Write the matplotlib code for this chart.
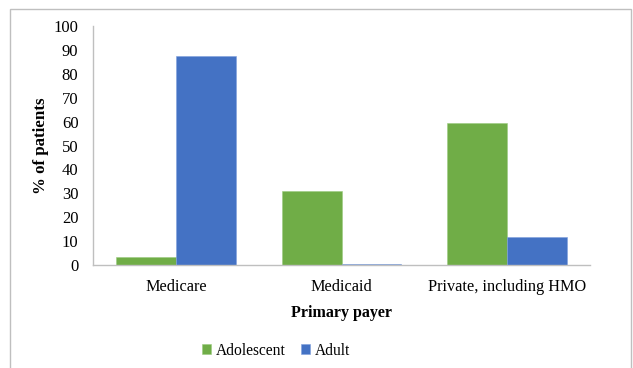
import matplotlib
matplotlib.use("Agg")
import matplotlib.pyplot as plt
import numpy as np
from matplotlib.patches import Rectangle

categories = ["Medicare", "Medicaid", "Private, including HMO"]
adolescent = [3.2, 31.0, 59.3]
adult = [87.4, 0.5, 11.6]
series_names = ["Adolescent", "Adult"]
yticks = list(range(0, 101, 10))

plt.rcParams["font.family"] = ["Liberation Serif", "DejaVu Serif"]

fig = plt.figure(figsize=(6.33, 3.68), dpi=100)
ax = fig.add_axes([0.147, 0.280, 0.785, 0.649])

x = np.arange(len(categories))
w = 0.362
green = "#70AD47"
blue = "#4472C4"
ax.bar(x - w / 2, adolescent, w, color=green, label=series_names[0],
       edgecolor="#9ccc80", linewidth=0.4)
ax.bar(x + w / 2, adult, w, color=blue, label=series_names[1],
       edgecolor="#7f9fdc", linewidth=0.4)

ax.set_xlim(-0.5, 2.5)
ax.set_ylim(0, 100)
ax.set_yticks(yticks)
ax.set_xticks(x)
ax.set_xticklabels(categories)
ax.tick_params(axis="both", length=0, colors="#000000")
ax.tick_params(axis="y", pad=10.5, labelsize=12)
ax.tick_params(axis="x", pad=10, labelsize=11.7)

for side in ["top", "right"]:
    ax.spines[side].set_visible(False)
for side in ["left", "bottom"]:
    ax.spines[side].set_color("#BFBFBF")
    ax.spines[side].set_linewidth(1.0)

ax.set_xlabel("Primary payer", fontsize=11.5, fontweight="bold", labelpad=7)
ax.set_ylabel("% of patients", fontsize=12.2, fontweight="bold", labelpad=3)

leg = fig.legend(loc="center", bbox_to_anchor=(276 / 633, 0.047), ncol=2, frameon=False,
                 fontsize=11.2, handlelength=0.6, handleheight=0.6,
                 handletextpad=0.3, columnspacing=1.0)

# outer chart border
fig.patches.append(Rectangle((10 / 633, -0.01), 621 / 633, 1 - 9 / 368 + 0.01,
                             transform=fig.transFigure, fill=False,
                             edgecolor="#BFBFBF", linewidth=1.0))

fig.savefig("out.png", dpi=100)
